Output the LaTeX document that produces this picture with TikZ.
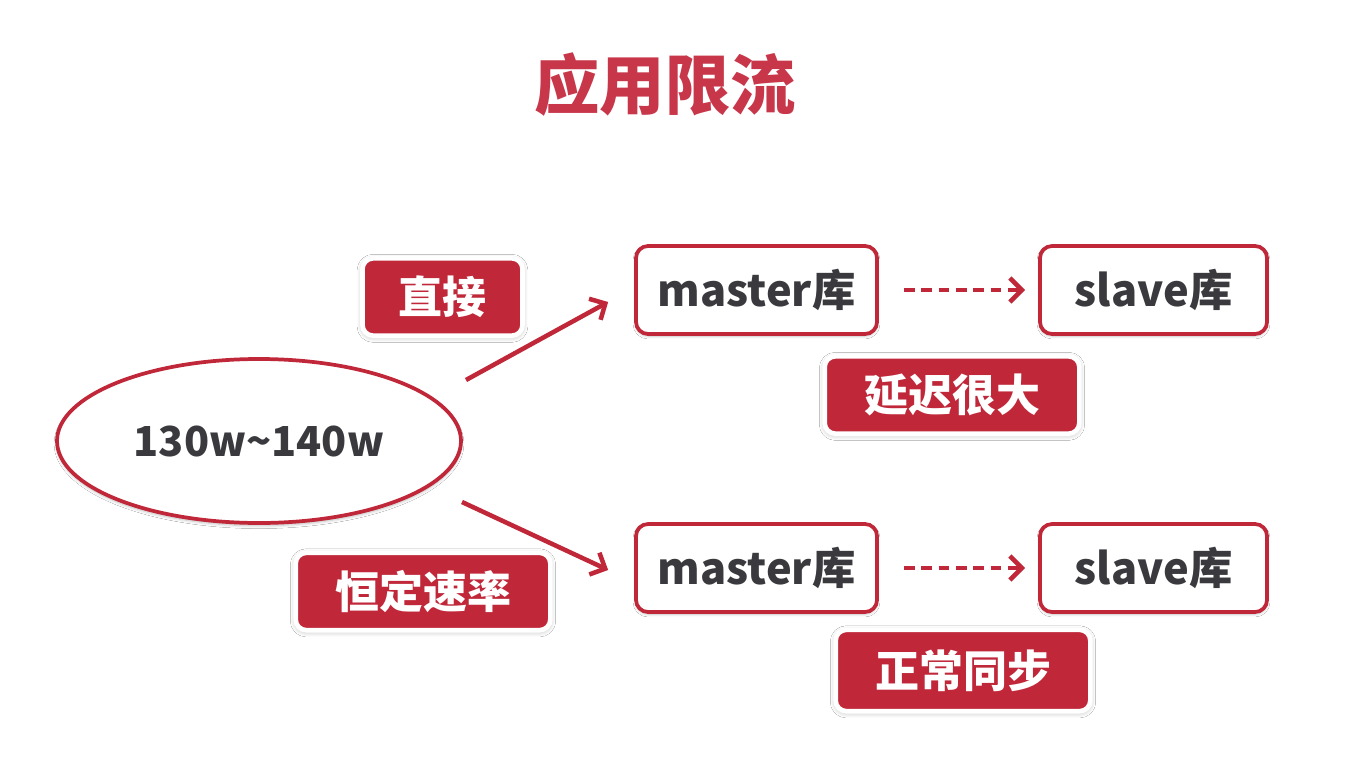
\documentclass[tikz,border=0pt]{standalone}
\usepackage{fontspec}
\setmainfont{Noto Sans CJK SC}
\usetikzlibrary{arrows.meta,shapes.geometric,shadows.blur,calc}
\definecolor{accent}{RGB}{192,40,58}
\definecolor{titlered}{RGB}{200,54,74}
\definecolor{ink}{RGB}{58,58,62}
\tikzset{
  box/.style={draw=accent, line width=2.8pt, rounded corners=9pt, fill=white,
    minimum width=180.75pt, minimum height=66pt, font=\fontsize{32.5}{34}\selectfont\bfseries,
    text=ink, inner sep=0pt,
    blur shadow={shadow xshift=0pt, shadow yshift=-1.5pt, shadow opacity=25, shadow blur steps=6}},
  tag/.style={draw=white, line width=3.5pt, rounded corners=8pt, fill=accent,
    minimum height=58pt, font=\fontsize{33}{35}\selectfont\bfseries,
    text=white, inner sep=0pt,
    blur shadow={shadow xshift=0pt, shadow yshift=-1pt, shadow opacity=30, shadow blur steps=6, shadow blur radius=4pt}},
  link/.style={draw=accent, line width=3.4pt, -{Straight Barb[length=9pt, width=18pt, line width=3.4pt]}},
  sync/.style={link, dash pattern=on 8pt off 5pt}
}
\begin{document}
\begin{tikzpicture}[x=0.75pt, y=-0.75pt]
  \useasboundingbox[fill=white] (0,0) rectangle (1351,777);

  % heading
  \node[font=\fontsize{49}{52}\selectfont\bfseries, text=titlered] (title) at (665,85) {应用限流};

  % source of requests
  \node[ellipse, draw=accent, line width=2.8pt, fill=white, minimum width=303pt, minimum height=123pt,
        font=\fontsize{31}{33}\selectfont\bfseries, text=ink,
        blur shadow={shadow xshift=0pt, shadow yshift=-2pt, shadow opacity=25, shadow blur steps=6}]
        (src) at (259,441) {130w\char`\~140w};

  % replication pairs
  \node[box] (m1) at (756.5,290) {master库};
  \node[box, minimum width=170.25pt] (s1) at (1153.5,290) {slave库};
  \node[box] (m2) at (756.5,568) {master库};
  \node[box, minimum width=170.25pt] (s2) at (1153.5,568) {slave库};

  % labels
  \node[tag, minimum width=120pt] (direct) at (442.5,297) {直接};
  \node[tag, minimum width=191pt] (lag) at (952,395) {延迟很大};
  \node[tag, minimum width=191pt] (steady) at (423,591.5) {恒定速率};
  \node[tag, minimum width=191pt, minimum height=61pt] (normal) at (963,670.5) {正常同步};

  % flows out of the source
  \coordinate (o1) at (466,380);
  \coordinate (o2) at (462,502);
  \coordinate (e1) at ($(m1.west)+(-26,12)$);
  \coordinate (e2) at ($(m2.west)+(-26,2)$);
  \draw[link] (o1) -- (e1);
  \draw[link] (o2) -- (e2);

  % replication
  \draw[sync, shorten <=18.75pt, shorten >=9.75pt] (m1.east) -- (s1.west);
  \draw[sync, shorten <=18.75pt, shorten >=9.75pt] (m2.east) -- (s2.west);
\end{tikzpicture}
\end{document}
